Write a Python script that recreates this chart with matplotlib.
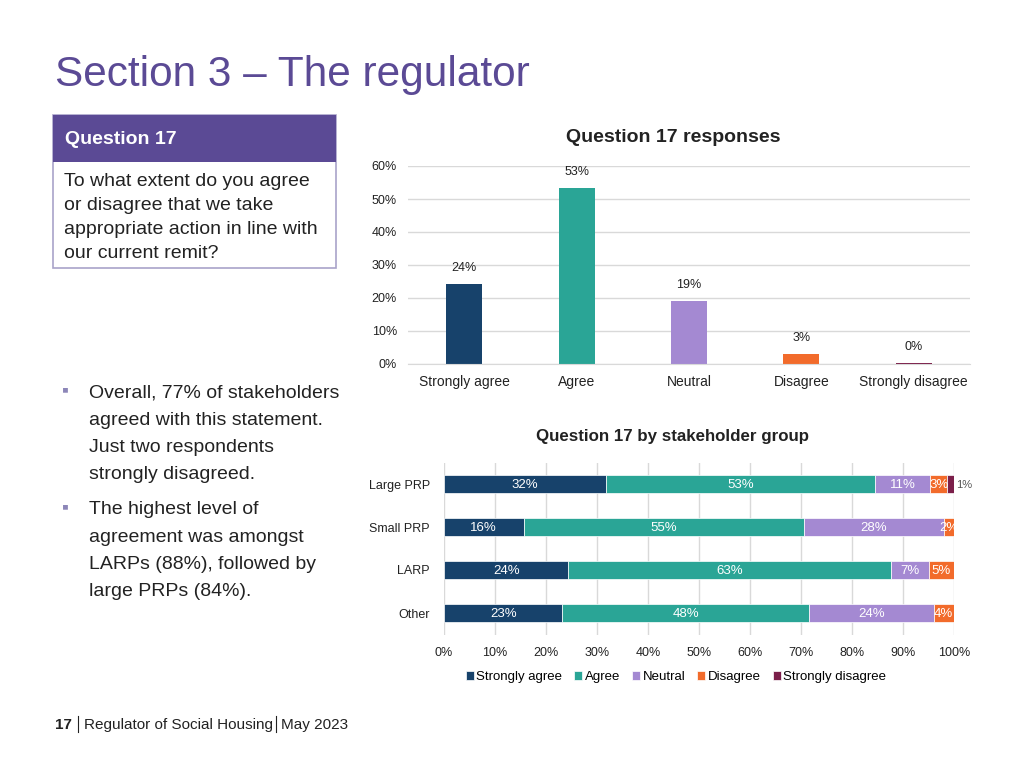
import matplotlib.pyplot as plt
from matplotlib.patches import Rectangle

plt.rcParams['font.family'] = ['Liberation Sans', 'DejaVu Sans']

# --- Data ---
responses = ["Strongly agree", "Agree", "Neutral", "Disagree", "Strongly disagree"]
overall = [24.2, 53.3, 19.1, 3.0, 0.4]

groups = ["Large PRP", "Small PRP", "LARP", "Other"]
strongly_agree = [31.8, 15.6, 24.4, 23.2]
agree = [52.7, 54.9, 63.3, 48.4]
neutral = [10.8, 27.6, 7.3, 24.4]
disagree = [3.4, 1.9, 5.0, 4.0]
strongly_disagree = [1.3, 0.0, 0.0, 0.0]

colors = ["#17426B", "#2AA596", "#A489D2", "#F26B2B", "#7B1F4A"]
PURPLE = "#5B4A95"
GRID = "#D9D9D9"
TXT = "#222222"

fig = plt.figure(figsize=(10.24, 7.68), dpi=100)

# --- Slide furniture ---
fig.text(55 / 1024, 1 - 75 / 768, "Section 3 \u2013 The regulator", fontsize=30.5,
         color=PURPLE, va="center", ha="left")

box = Rectangle((53 / 1024, 1 - 268 / 768), 283 / 1024, 153 / 768, transform=fig.transFigure,
                facecolor="white", edgecolor="#A9A3C9", lw=1.2)
fig.patches.append(box)
head = Rectangle((53 / 1024, 1 - 162 / 768), 283 / 1024, 47 / 768, transform=fig.transFigure,
                 facecolor=PURPLE, edgecolor="none")
fig.patches.append(head)
fig.text(65 / 1024, 1 - 139 / 768, "Question 17", fontsize=14, fontweight="bold",
         color="white", va="center")
question = ["To what extent do you agree", "or disagree that we take",
            "appropriate action in line with", "our current remit?"]
for i, line in enumerate(question):
    fig.text(64 / 1024, 1 - (181 + 24 * i) / 768, line, fontsize=14, color=TXT, va="center")

bullets = [["Overall, 77% of stakeholders", "agreed with this statement.",
            "Just two respondents", "strongly disagreed."],
           ["The highest level of", "agreement was amongst",
            "LARPs (88%), followed by", "large PRPs (84%)."]]
starts = [393, 510]
for b, lines in zip(starts, bullets):
    fig.text(62 / 1024, 1 - (b - 2) / 768, "\u25aa", fontsize=14, color="#8C86B8", va="center")
    for i, line in enumerate(lines):
        fig.text(89 / 1024, 1 - (b + 27.3 * i) / 768, line, fontsize=14, color=TXT, va="center")

fig.text(55 / 1024, 1 - 725 / 768, "17", fontsize=11, fontweight="bold", color=TXT, va="center")
fig.text(84 / 1024, 1 - 725 / 768, "Regulator of Social Housing", fontsize=11, color=TXT, va="center")
fig.text(281 / 1024, 1 - 725 / 768, "May 2023", fontsize=11, color=TXT, va="center")
for xs in (78, 276):
    fig.add_artist(plt.Line2D([xs / 1024, xs / 1024], [1 - 732 / 768, 1 - 716 / 768],
                              transform=fig.transFigure, color=TXT, lw=0.8))

# --- Overall chart ---
ax1 = fig.add_axes([408 / 1024, 1 - 364 / 768, 562 / 1024, 198 / 768])
x = range(len(responses))
ax1.bar(x, [v / 100 for v in overall], width=0.32, color=colors)
for xi, v in zip(x, overall):
    ax1.text(xi, v / 100 + 0.03, f"{v:.0f}%", ha="center", va="bottom", fontsize=9, color=TXT)
ax1.set_ylim(0, 0.6)
ax1.set_xlim(-0.5, 4.5)
ax1.set_yticks([i / 10 for i in range(7)])
ax1.set_yticklabels([f"{i * 10}%" for i in range(7)], fontsize=9, color=TXT)
ax1.set_xticks(list(x))
ax1.set_xticklabels(responses, fontsize=10, color=TXT)
ax1.tick_params(length=0, pad=8)
ax1.tick_params(axis="x", pad=8)
ax1.grid(axis="y", color=GRID, lw=1)
ax1.set_axisbelow(True)
for s in ax1.spines.values():
    s.set_visible(False)
ax1.spines["bottom"].set_visible(True)
ax1.spines["bottom"].set_color(GRID)
fig.text(673 / 1024, 1 - 138 / 768, "Question 17 responses", fontsize=14, fontweight="bold",
         color=TXT, ha="center", va="center")

# --- Stakeholder chart ---
ax2 = fig.add_axes([444 / 1024, 1 - 634.5 / 768, 510 / 1024, 172 / 768])
series = [strongly_agree, agree, neutral, disagree, strongly_disagree]
y = range(len(groups))
left = [0.0] * len(groups)
for k, (vals, c) in enumerate(zip(series, colors)):
    ax2.barh(y, vals, left=left, height=0.42, color=c, edgecolor="white", lw=0.5,
             label=responses[k])
    for yi, v, l in zip(y, vals, left):
        if v <= 0:
            continue
        if k == 4:
            ax2.text(l + v + 0.5, yi + 0.02, f"{v:.0f}%", ha="left", va="center", fontsize=8,
                     color="#555555")
        else:
            ax2.text(l + v / 2, yi + 0.02, f"{v:.0f}%", ha="center", va="center", fontsize=9.5,
                     color="white")
    left = [a + b for a, b in zip(left, vals)]
ax2.set_xlim(0, 100)
ax2.set_ylim(3.5, -0.5)
ax2.set_yticks(list(y))
ax2.set_yticklabels(groups, fontsize=9, color=TXT)
ax2.set_xticks(range(0, 101, 10))
ax2.set_xticklabels([f"{i}%" for i in range(0, 101, 10)], fontsize=9, color=TXT)
ax2.tick_params(length=0, pad=9)
ax2.tick_params(axis="y", pad=10)
ax2.grid(axis="x", color=GRID, lw=1)
ax2.set_axisbelow(True)
for s in ax2.spines.values():
    s.set_visible(False)
fig.text(673 / 1024, 1 - 436 / 768, "Question 17 by stakeholder group", fontsize=12.2,
         fontweight="bold", color=TXT, ha="center", va="center")
fig.legend(*ax2.get_legend_handles_labels(), loc="center", bbox_to_anchor=(676 / 1024, 1 - 677 / 768),
           ncol=5, frameon=False, fontsize=9.5, handlelength=0.6, handleheight=0.6,
           handletextpad=0.2, columnspacing=0.9)

fig.savefig("out.png", dpi=100)
